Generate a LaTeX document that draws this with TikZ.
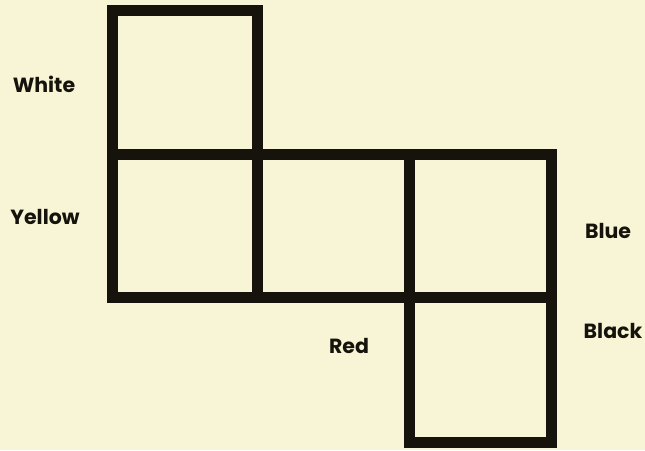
\documentclass[tikz,border=0pt]{standalone}
\usepackage{fontspec}
\setmainfont{Poppins}
\definecolor{paper}{RGB}{248,245,214}
\definecolor{ink}{RGB}{22,18,12}
\begin{document}
\begin{tikzpicture}[x=1pt,y=-1pt,
  netline/.style={draw=ink,line width=11pt,line join=miter,line cap=rect},
  lbl/.style={font=\fontsize{20.5}{22}\selectfont\bfseries,text=ink,inner sep=0pt}]
\fill[paper] (0,0) rectangle (645,450);
\useasboundingbox (0,0) rectangle (645,450);
% grid coordinates
\coordinate (a1) at (112,10);  \coordinate (a2) at (257,10);
\coordinate (b1) at (112,154); \coordinate (b2) at (257,154); \coordinate (b3) at (409,154); \coordinate (b4) at (551,154);
\coordinate (c1) at (112,297); \coordinate (c2) at (257,297); \coordinate (c3) at (409,297); \coordinate (c4) at (551,297);
\coordinate (d3) at (409,442); \coordinate (d4) at (551,442);
% outline
\draw[netline] (a1) -- (a2) -- (b2) -- (b4) -- (c4) -- (d4) -- (d3) -- (c3) -- (c1) -- cycle;
% inner lines
\draw[netline] (b1) -- (b2);
\draw[netline] (b2) -- (c2);
\draw[netline] (b3) -- (c3);
\draw[netline] (c3) -- (c4);
% labels
\node[lbl] (white) at (44,84) {White};
\node[lbl] (yellow) at (45,217) {Yellow};
\node[lbl] (blue) at (608,231) {Blue};
\node[lbl] (red) at (349,346) {Red};
\node[lbl] (black) at (613,331) {Black};
\end{tikzpicture}
\end{document}
